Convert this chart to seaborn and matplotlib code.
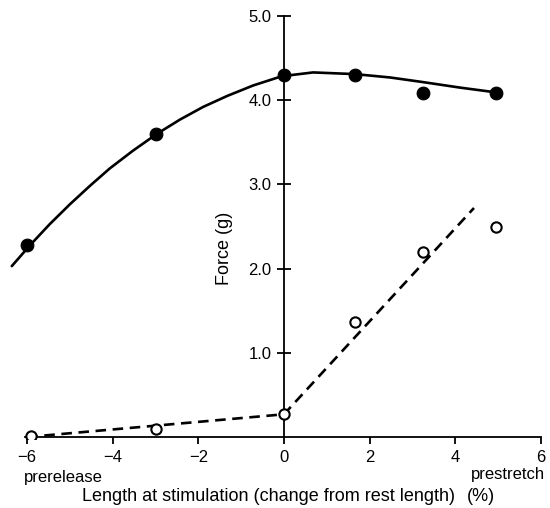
import matplotlib
matplotlib.use("Agg")
import matplotlib.pyplot as plt
import seaborn as sns
import pandas as pd

# Data
filled_x = [-6.0, -3.0, 0.0, 1.65, 3.25, 4.95]
filled_y = [2.28, 3.60, 4.30, 4.30, 4.09, 4.09]
open_x = [-5.9, -3.0, 0.0, 1.65, 3.25, 4.95]
open_y = [0.01, 0.10, 0.27, 1.37, 2.20, 2.50]
curve_x = [-6.36, -5.93, -5.47, -5.00, -4.53, -4.07, -3.53, -2.97, -2.43,
           -1.89, -1.33, -0.72, -0.05, 0.68, 1.66, 2.48, 3.25, 4.11, 5.0]
curve_y = [2.03, 2.28, 2.53, 2.765, 2.985, 3.19, 3.40, 3.60, 3.77,
           3.92, 4.05, 4.175, 4.285, 4.33, 4.31, 4.27, 4.215, 4.15, 4.09]
dash_x = [-6.0, 0.0, 4.44]
dash_y = [0.0, 0.27, 2.72]
xticks = [-6, -4, -2, 0, 2, 4, 6]
yticks = [1.0, 2.0, 3.0, 4.0, 5.0]
ytick_labels = ["1.0", "2.0", "3.0", "4.0", "5.0"]

sns.set_theme(style="ticks")
plt.rcParams['font.family'] = ['Liberation Sans', 'DejaVu Sans']
plt.rcParams['text.color'] = 'black'

fig = plt.figure(figsize=(5.5, 5.08), dpi=100)
ax = fig.add_axes([0.01055, 0.1364, 0.9804, 0.8354])

curve = pd.DataFrame({"x": curve_x, "y": curve_y})
dash = pd.DataFrame({"x": dash_x, "y": dash_y})
filled = pd.DataFrame({"x": filled_x, "y": filled_y})
opn = pd.DataFrame({"x": open_x, "y": open_y})

sns.lineplot(data=curve, x="x", y="y", sort=False, color="black", lw=1.9, ax=ax, zorder=2)
sns.lineplot(data=dash, x="x", y="y", sort=False, color="black", lw=1.9, ax=ax, zorder=2,
             linestyle=(0, (4.0, 2.5)))
sns.scatterplot(data=filled, x="x", y="y", color="black", s=85, edgecolor="black", ax=ax, zorder=3)
sns.scatterplot(data=opn, x="x", y="y", color="white", s=55, edgecolor="black", linewidth=1.5,
                ax=ax, zorder=4)

ax.set_xlim(-6.5, 6.1)
ax.set_ylim(-0.02, 5.02)
ax.spines['left'].set_position(('data', 0))
ax.spines['bottom'].set_position(('data', 0))
ax.spines['right'].set_visible(False)
ax.spines['top'].set_visible(False)
ax.spines['left'].set_bounds(0, 5)
ax.spines['bottom'].set_bounds(-6.05, 6)
for s in ['left', 'bottom']:
    ax.spines[s].set_linewidth(1.3)
    ax.spines[s].set_color('black')

ax.set_xticks(xticks)
ax.set_xticklabels([f"{t}".replace("-", "\u2212") for t in xticks])
ax.set_yticks(yticks)
ax.set_yticklabels(ytick_labels)
ax.tick_params(axis='x', direction='out', length=5, width=1.3, pad=4.5, labelsize=12,
               colors='black')
ax.tick_params(axis='y', direction='inout', length=10, width=1.3, pad=4, labelsize=12,
               colors='black')
ax.set_xlabel("")
ax.set_ylabel("")

ax.text(-6.07, -0.475, "prerelease", ha="left", va="center", fontsize=12, clip_on=False)
ax.text(6.1, -0.45, "prestretch", ha="right", va="center", fontsize=12, clip_on=False)
ax.text(-4.72, -0.71, "Length at stimulation (change from rest length)", ha="left",
        va="center", fontsize=13, clip_on=False)
ax.text(4.28, -0.71, "(%)", ha="left", va="center", fontsize=13, clip_on=False)
ax.text(-1.39, 2.245, "Force (g)", rotation=90, ha="center", va="center", fontsize=13)

fig.savefig("out.png", dpi=100)
